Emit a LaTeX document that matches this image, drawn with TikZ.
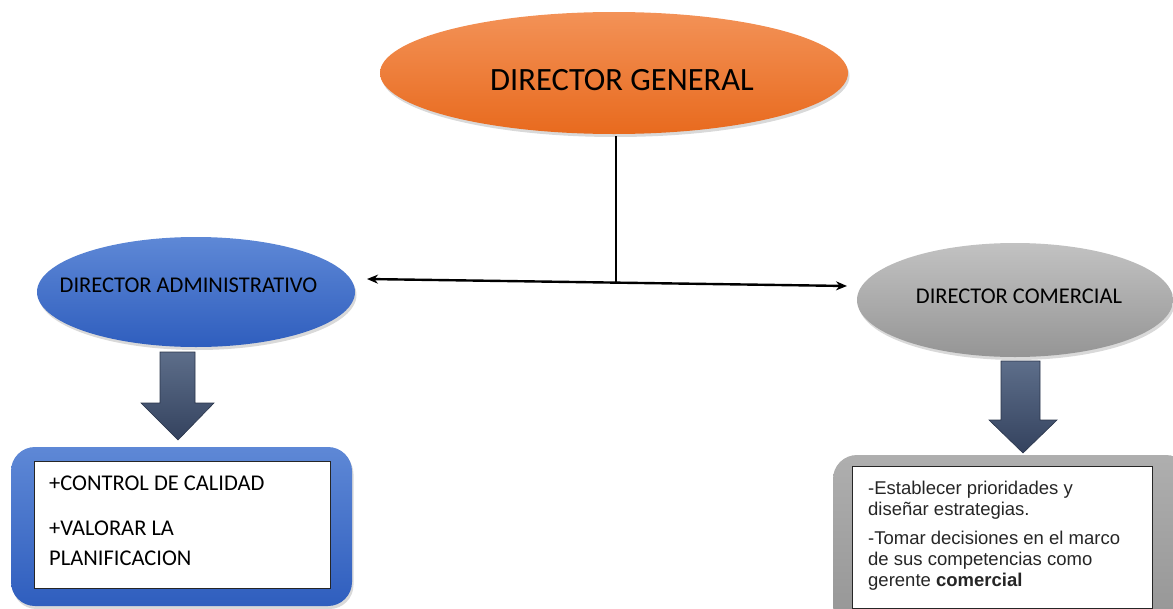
\documentclass[tikz,border=0pt]{standalone}
\usepackage{fontspec}
\setmainfont{Carlito}
\newfontfamily\arialf{Liberation Sans}
\usetikzlibrary{shapes.geometric,arrows.meta,shadows,calc}
\definecolor{orTop}{HTML}{F39257}
\definecolor{orBot}{HTML}{E86A1E}
\definecolor{blTop}{HTML}{5E88D6}
\definecolor{blBot}{HTML}{2F5EBE}
\definecolor{grTop}{HTML}{C2C2C2}
\definecolor{grBot}{HTML}{959595}
\definecolor{arTop}{HTML}{5D6E8A}
\definecolor{arBot}{HTML}{34425E}
\tikzset{
  oval/.style={ellipse, inner sep=0pt,
    drop shadow={opacity=0.3, shadow xshift=1.5pt, shadow yshift=-3pt}},
  lbl/.style={inner sep=0pt, text=black},
  conn/.style={line width=2.4pt, draw=black},
  tipped/.style={conn, {Stealth[length=11pt,width=9pt]}-{Stealth[length=11pt,width=9pt]}},
  blockarrow/.style={draw=arBot!80!black, line width=0.6pt, top color=arTop, bottom color=arBot},
  outerbox/.style={rounded corners=24pt,
    drop shadow={opacity=0.3, shadow xshift=1.5pt, shadow yshift=-3pt}},
  innerbox/.style={draw=black!85, line width=1pt, fill=white},
}
\begin{document}
\begin{tikzpicture}[x=1pt,y=1pt]
\useasboundingbox (0,0) rectangle (1173,-608);
% main ellipses
\node[oval, top color=orTop, bottom color=orBot, minimum width=468, minimum height=122] (gen) at (614,-73) {};
\node[lbl, font=\fontsize{32.5}{36}\selectfont] (gent) at ($(gen.center)+(8,-7)$) {DIRECTOR GENERAL};
\node[oval, top color=blTop, bottom color=blBot, minimum width=318, minimum height=110] (adm) at (196,-292) {};
\node[lbl, font=\fontsize{22.5}{26}\selectfont] (admt) at ($(adm.center)+(-7.5,7)$) {DIRECTOR ADMINISTRATIVO};
\node[oval, top color=grTop, bottom color=grBot, minimum width=316, minimum height=114] (com) at (1015,-300) {};
\node[lbl, font=\fontsize{22.5}{26}\selectfont] (comt) at ($(com.center)+(4,4)$) {DIRECTOR COMERCIAL};
% connectors
\coordinate (jn) at (616,-282.5);
\coordinate (la) at (367,-279);
\coordinate (ra) at (847,-286);
\draw[conn] ($(gen.south)+(2,-2)$) -- (jn);
\draw[tipped] (la) -- (ra);
% block arrows
\path[blockarrow] (160,-352) -- (195,-352) -- (195,-403) -- (214,-403) -- (178,-440) -- (141,-403) -- (160,-403) -- cycle;
\path[blockarrow] (1001,-361) -- (1040,-361) -- (1040,-420) -- (1057,-420) -- (1023,-453) -- (989,-420) -- (1001,-420) -- cycle;
% left box
\path[outerbox, top color=blTop, bottom color=blBot] (11,-447) rectangle (352,-606);
\node[innerbox, anchor=north west, minimum width=296, minimum height=127] (ladm) at (34,-461) {};
\node[lbl, anchor=north west, align=left, font=\fontsize{22.5}{30}\selectfont] (ladmt) at (49,-476)
  {+CONTROL DE CALIDAD\\[15pt]+VALORAR LA\\PLANIFICACION};
% right box
\path[outerbox, top color=grTop!90!black, bottom color=grBot] (833,-455) rectangle (1190,-630);
\node[innerbox, anchor=north west, minimum width=300, minimum height=142] (lcom) at (852,-466) {};
\node[lbl, anchor=north west, align=left, font=\arialf\fontsize{18.5}{21}\selectfont, text=black!85] (lcomt) at (868,-481)
  {-Establecer prioridades y\\diseñar estrategias.\\[8pt]-Tomar decisiones en el marco\\de sus competencias como\\gerente \textbf{comercial}};
\end{tikzpicture}
\end{document}
